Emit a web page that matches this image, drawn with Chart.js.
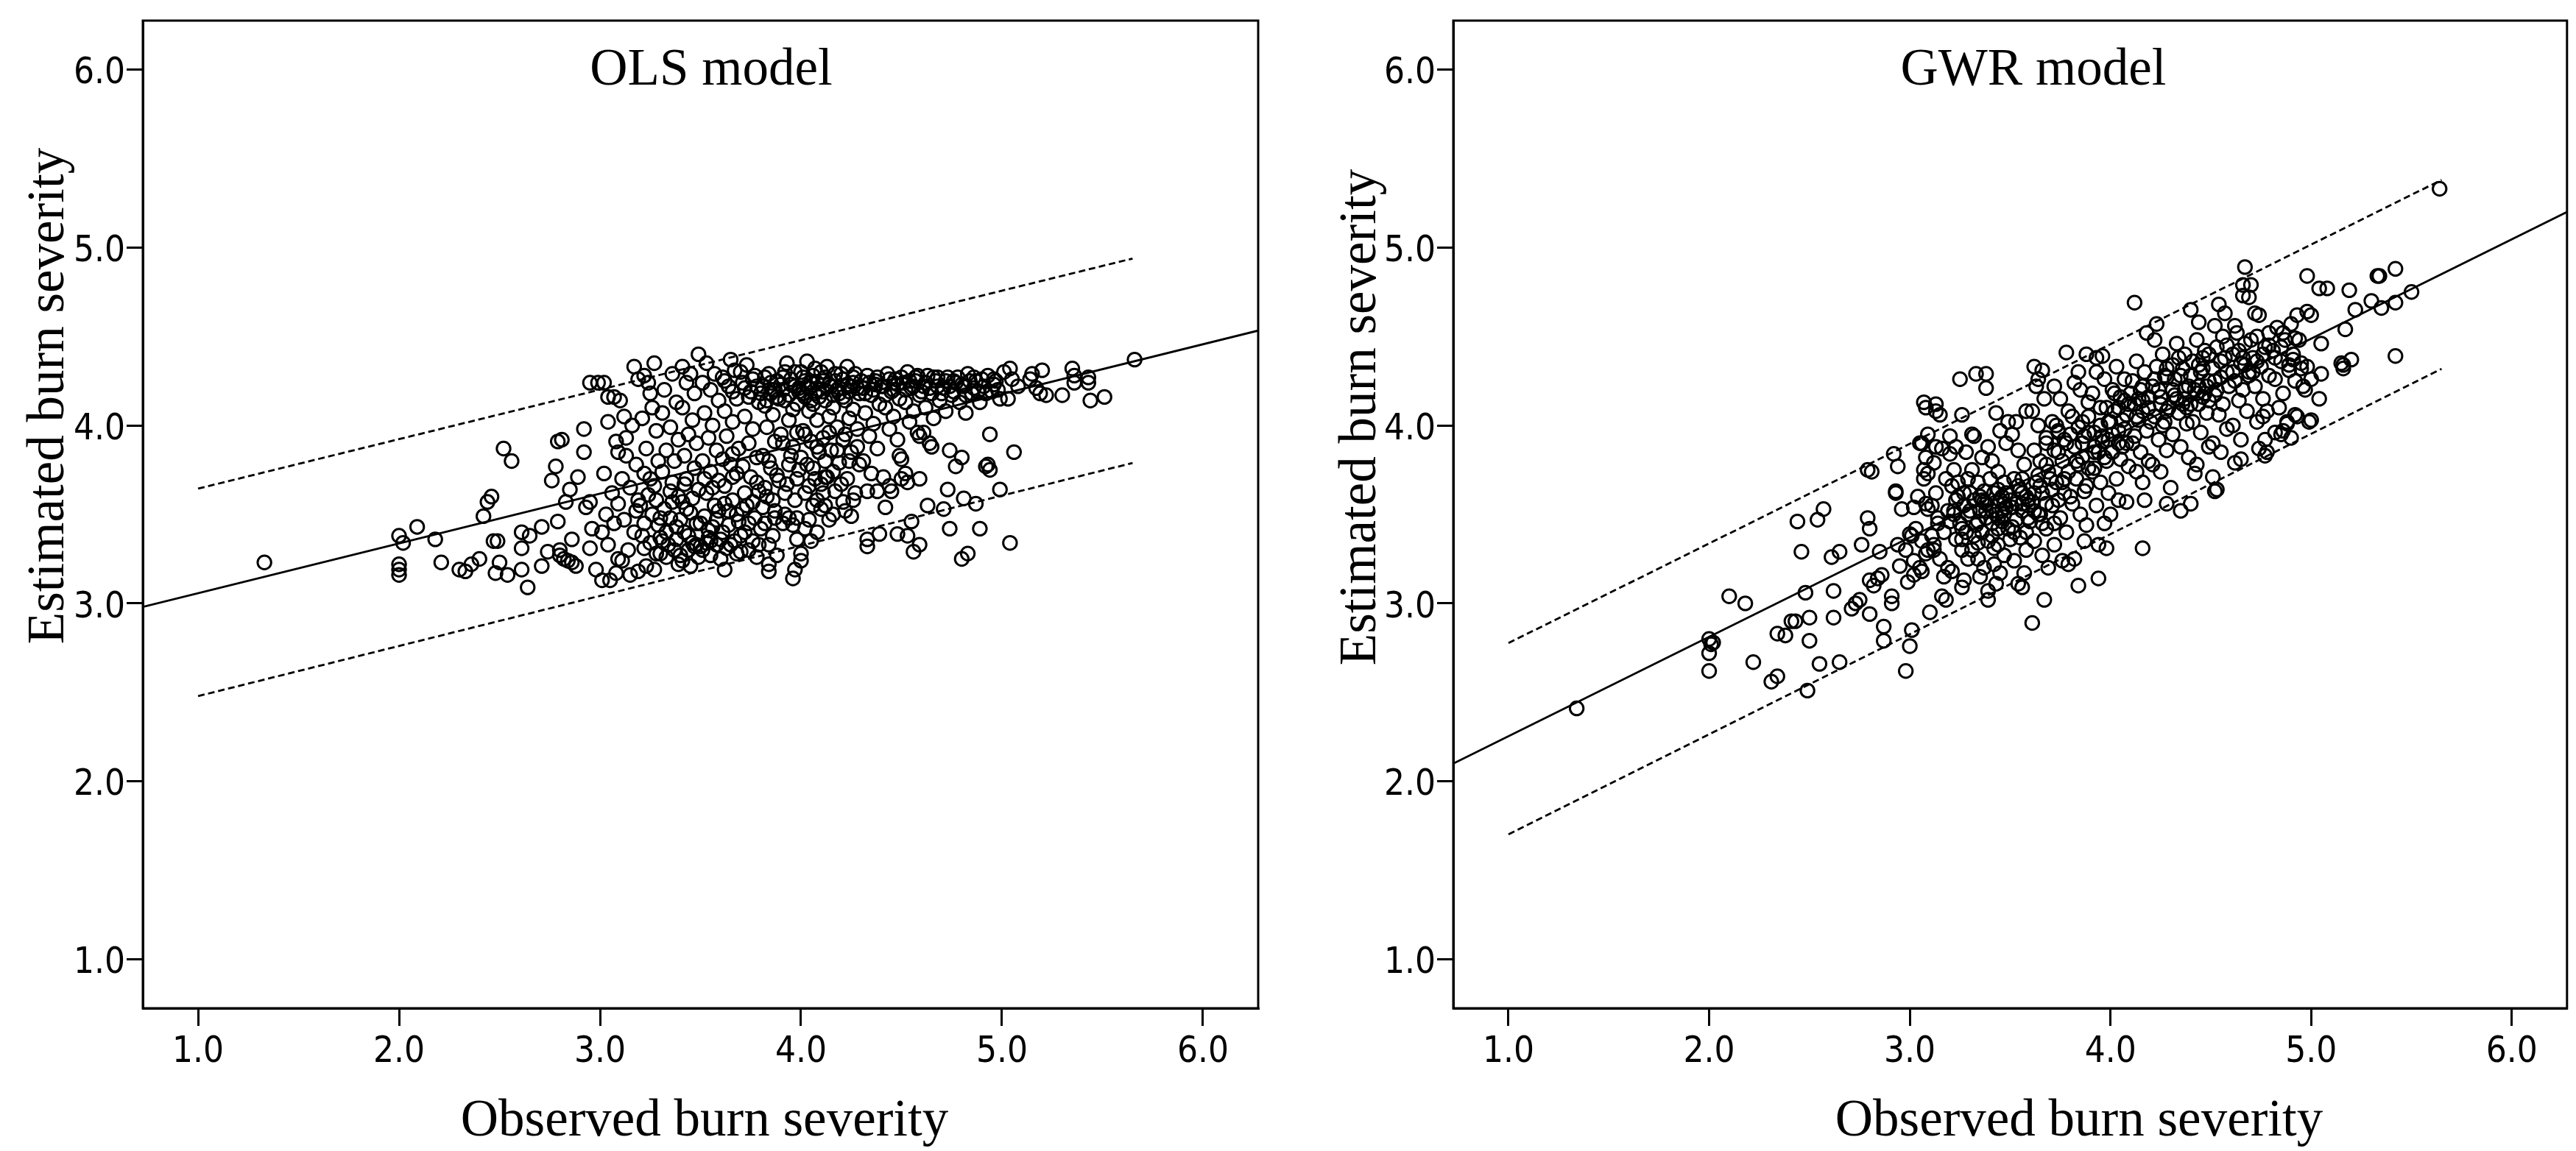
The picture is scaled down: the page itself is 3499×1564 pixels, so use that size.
<!DOCTYPE html>
<html>
<head>
<meta charset="utf-8">
<title>Observed vs estimated burn severity</title>
<script src="https://cdn.jsdelivr.net/npm/chart.js@4.4.1/dist/chart.umd.min.js"></script>
<style>
  html, body { margin: 0; padding: 0; background: #fff; }
  #wrap { position: relative; width: 3499px; height: 1564px; }
  .panel { position: absolute; top: 0; height: 1564px; }
  #left { left: 0; width: 1750px; }
  #right { left: 1750px; width: 1749px; }
</style>
</head>
<body>
<div id="wrap">
  <div class="panel" id="left"><canvas id="olsChart" width="1750" height="1564"></canvas></div>
  <div class="panel" id="right"><canvas id="gwrChart" width="1749" height="1564"></canvas></div>
</div>
<script>
// axis range and ticks (same on both axes, both panels)
const axisMin = 0.725;
const axisMax = 6.275;
const tickValues = [1, 2, 3, 4, 5, 6];

// OLS model: [observed, estimated]
const olsPoints = [
  [1.33,3.23],
  [2.00,3.38],[2.02,3.34],[2.00,3.22],[2.00,3.19],[2.00,3.16],
  [2.09,3.43],[2.18,3.36],[2.21,3.23],
  [2.30,3.19],[2.33,3.18],[2.36,3.22],[2.40,3.25],
  [2.42,3.49],[2.44,3.57],[2.46,3.60],
  [2.47,3.35],[2.49,3.35],[2.50,3.23],[2.48,3.17],
  [2.52,3.87],[2.56,3.80],[2.54,3.16],
  [2.61,3.40],[2.61,3.31],[2.61,3.19],[2.64,3.09],[2.65,3.38],
  [2.71,3.43],[2.71,3.21],[2.74,3.29],[2.76,3.69],[2.78,3.77],[2.79,3.91],[2.81,3.92],
  [2.79,3.46],[2.80,3.30],[2.82,3.25],[2.83,3.57],[2.85,3.64],[2.86,3.36],[2.86,3.23],
  [2.80,3.27],[2.84,3.24],[2.88,3.21],[2.89,3.71],[2.92,3.98],[2.92,3.85],[2.93,3.54],
  [2.95,3.57],[2.96,3.42],[2.95,3.31],[2.95,4.24],[2.99,4.24],[2.98,3.19],[3.01,3.13],
  [3.02,4.24],[3.04,4.16],[3.07,4.16],[3.04,4.02],[3.08,3.91],[3.09,3.85],[3.02,3.73],[3.06,3.62],
  [3.03,3.50],[3.01,3.40],[3.04,3.33],[3.09,3.25],[3.08,3.17],[3.05,3.13],[3.07,3.45],[3.09,3.56],
  [3.10,4.14],[3.12,4.05],[3.16,4.00],[3.13,3.93],[3.18,3.78],[3.11,3.70],[3.15,3.65],[3.19,3.58],
  [3.12,3.47],[3.17,3.40],[3.14,3.30],[3.11,3.24],[3.19,3.18],[3.15,3.16],[3.17,4.33],[3.19,4.26],
  [3.13,3.83],[3.18,3.52],
  [3.27,4.35],[3.22,4.28],[3.24,4.24],[3.26,4.10],[3.21,4.04],[3.28,3.97],[3.23,3.87],[3.29,3.80],
  [3.22,3.73],[3.27,3.66],[3.24,3.61],[3.20,3.55],[3.26,3.50],[3.29,3.44],[3.21,3.38],[3.25,3.34],
  [3.28,3.28],[3.23,3.21],[3.27,3.19],[3.22,3.31],[3.25,4.18],
  [3.36,4.29],[3.32,4.20],[3.38,4.13],[3.31,4.07],[3.35,3.99],[3.39,3.92],[3.33,3.86],[3.37,3.80],
  [3.31,3.74],[3.36,3.68],[3.39,3.60],[3.32,3.53],[3.35,3.48],[3.38,3.43],[3.30,3.37],[3.34,3.33],
  [3.37,3.30],[3.33,3.26],[3.39,3.22],[3.31,3.35],[3.36,3.57],[3.41,4.33],
  [3.49,4.40],[3.45,4.29],[3.43,4.24],[3.47,4.18],[3.41,4.10],[3.46,4.03],[3.44,3.95],[3.48,3.90],
  [3.42,3.83],[3.47,3.76],[3.43,3.70],[3.49,3.64],[3.41,3.57],[3.45,3.51],[3.48,3.45],[3.42,3.40],
  [3.46,3.34],[3.44,3.30],[3.49,3.26],[3.41,3.24],[3.47,3.32],[3.43,3.53],
  [3.53,4.35],[3.57,4.29],[3.51,4.24],[3.55,4.20],[3.59,4.14],[3.52,4.07],[3.56,4.00],[3.54,3.93],
  [3.58,3.86],[3.51,3.80],[3.55,3.74],[3.59,3.69],[3.53,3.62],[3.57,3.55],[3.52,3.49],[3.56,3.43],
  [3.54,3.37],[3.58,3.33],[3.51,3.30],[3.55,3.27],[3.59,3.52],[3.53,3.34],
  [3.65,4.37],[3.67,4.31],[3.61,4.27],[3.64,4.22],[3.68,4.15],[3.62,4.08],[3.66,4.02],[3.63,3.94],
  [3.69,3.87],[3.61,3.81],[3.65,3.78],[3.68,3.73],[3.62,3.66],[3.66,3.58],[3.64,3.52],[3.69,3.46],
  [3.61,3.40],[3.67,3.35],[3.63,3.31],[3.62,3.19],[3.68,3.28],[3.66,3.84],
  [3.73,4.34],[3.77,4.28],[3.71,4.24],[3.75,4.19],[3.79,4.13],[3.72,4.05],[3.76,3.98],[3.74,3.90],
  [3.78,3.82],[3.71,3.77],[3.75,3.71],[3.79,3.63],[3.73,3.55],[3.77,3.48],[3.72,3.40],[3.76,3.35],
  [3.74,3.30],[3.78,3.26],[3.79,3.33],[3.71,3.53],
  [3.84,4.29],[3.88,4.25],[3.81,4.22],[3.85,4.18],[3.89,4.15],[3.82,4.11],[3.86,4.06],[3.83,3.99],
  [3.87,3.91],[3.81,3.83],[3.85,3.76],[3.89,3.69],[3.83,3.60],[3.87,3.52],[3.82,3.45],[3.86,3.38],
  [3.84,3.33],[3.88,3.27],[3.84,3.22],[3.81,3.54],[3.87,4.20],[3.84,3.18],[3.87,3.48],[3.91,3.45],
  [3.93,4.35],[3.97,4.30],[3.91,4.27],[3.95,4.23],[3.99,4.19],[3.92,4.14],[3.96,4.09],[3.94,4.03],
  [3.98,3.96],[3.91,3.90],[3.95,3.83],[3.99,3.75],[3.93,3.67],[3.97,3.58],[3.92,3.50],[3.96,3.44],
  [3.98,3.36],[3.97,3.19],[3.94,3.48],[3.99,4.21],[3.96,3.14],[3.98,3.48],
  [4.03,4.36],[4.07,4.32],[4.01,4.27],[4.05,4.24],[4.09,4.20],[4.02,4.16],[4.06,4.12],[4.04,4.08],
  [4.08,4.03],[4.01,3.97],[4.05,3.91],[4.09,3.85],[4.03,3.78],[4.07,3.70],[4.02,3.62],[4.06,3.55],
  [4.04,3.47],[4.08,3.40],[4.00,3.28],[4.03,4.22],[4.07,4.18],[4.05,3.35],[4.00,3.24],[4.02,3.42],
  [4.08,3.58],[4.10,3.67],[4.11,3.62],[4.12,3.71],
  [4.13,4.33],[4.17,4.29],[4.11,4.25],[4.15,4.22],[4.19,4.18],[4.12,4.14],[4.16,4.10],[4.14,4.05],
  [4.18,3.99],[4.11,3.93],[4.15,3.86],[4.19,3.79],[4.13,3.71],[4.17,3.63],[4.12,3.55],[4.16,3.50],
  [4.14,3.47],[4.18,4.20],
  [4.23,4.33],[4.27,4.29],[4.21,4.26],[4.25,4.22],[4.29,4.18],[4.22,4.14],[4.26,4.09],[4.24,4.04],
  [4.28,3.98],[4.21,3.92],[4.25,3.85],[4.29,3.78],[4.23,3.70],[4.27,3.62],[4.22,3.52],[4.26,4.24],
  [4.25,3.49],[4.21,3.57],
  [4.33,4.28],[4.37,4.25],[4.31,4.21],[4.35,4.17],[4.39,4.12],[4.32,4.07],[4.36,4.01],[4.34,3.94],
  [4.38,3.87],[4.31,3.80],[4.35,3.73],[4.33,3.63],[4.33,3.36],[4.33,3.32],[4.39,3.39],[4.38,3.63],
  [4.37,4.23],
  [4.43,4.29],[4.47,4.26],[4.41,4.22],[4.45,4.19],[4.49,4.15],[4.42,4.10],[4.46,4.05],[4.44,3.98],
  [4.48,3.92],[4.41,3.71],[4.42,3.54],[4.45,3.63],[4.48,3.39],[4.44,3.66],[4.46,4.24],[4.50,3.70],
  [4.50,3.81],[4.49,3.83],
  [4.53,4.30],[4.57,4.27],[4.51,4.24],[4.55,4.21],[4.59,4.17],[4.52,4.13],[4.56,4.08],[4.54,4.02],
  [4.58,3.96],[4.59,3.94],[4.61,3.96],[4.52,3.73],[4.53,3.68],[4.59,3.70],[4.53,3.38],[4.56,3.29],
  [4.59,3.33],[4.55,3.46],[4.57,4.25],
  [4.63,4.28],[4.67,4.25],[4.61,4.22],[4.65,4.18],[4.69,4.14],[4.62,4.10],[4.66,4.04],[4.65,3.88],
  [4.63,3.55],[4.68,4.27],[4.64,3.90],
  [4.73,4.27],[4.77,4.24],[4.71,4.21],[4.75,4.17],[4.79,4.13],[4.72,4.08],[4.74,3.86],[4.80,3.82],
  [4.77,3.77],[4.73,3.64],[4.71,3.53],[4.74,3.42],[4.76,4.25],
  [4.83,4.29],[4.87,4.25],[4.81,4.22],[4.85,4.18],[4.89,4.13],[4.82,4.07],[4.81,3.59],[4.87,3.56],
  [4.83,3.28],[4.80,3.25],[4.86,4.27],[4.89,3.42],
  [4.93,4.28],[4.97,4.25],[4.91,4.22],[4.95,4.19],[4.99,4.15],[4.94,3.95],[4.92,3.77],[4.93,3.78],
  [4.94,3.75],[4.99,3.64],[4.96,4.26],
  [5.04,4.32],[5.05,4.26],[5.08,4.22],[5.03,4.15],[5.06,3.85],[5.04,3.34],[5.01,4.30],
  [5.14,4.26],[5.15,4.29],[5.20,4.31],[5.17,4.21],[5.19,4.18],[5.22,4.17],[5.30,4.17],[5.35,4.32],
  [5.36,4.28],[5.36,4.24],[5.43,4.27],[5.43,4.24],[5.44,4.14],[5.51,4.16],[5.66,4.37],
  // dense upper band
  [3.62,4.25],[3.66,4.19],[3.70,4.30],[3.72,4.21],[3.74,4.16],[3.76,4.26],[3.78,4.22],[3.80,4.18],
  [3.82,4.27],[3.83,4.14],[3.85,4.24],[3.86,4.20],[3.88,4.16],[3.90,4.23],[3.91,4.20],[3.92,4.30],
  [3.94,4.17],[3.95,4.26],[3.97,4.22],[3.98,4.12],[4.00,4.30],[4.01,4.18],[4.02,4.25],[4.04,4.21],
  [4.05,4.14],[4.06,4.28],[4.08,4.24],[4.09,4.16],[4.10,4.30],[4.11,4.19],[4.12,4.27],[4.14,4.23],
  [4.16,4.17],[4.17,4.25],[4.19,4.21],[4.20,4.29],[4.21,4.16],[4.23,4.23],[4.24,4.19],[4.26,4.27],
  [4.28,4.21],[4.30,4.25],[4.32,4.18],[4.34,4.24],[4.36,4.20],[4.38,4.27],[4.40,4.22],[4.42,4.17],
  [4.44,4.26],[4.46,4.20],[4.48,4.23],[4.50,4.27],[4.52,4.20],[4.54,4.25],[4.56,4.22],[4.58,4.28],
  [4.60,4.19],[4.62,4.24],[4.64,4.21],[4.66,4.27],[4.68,4.22],[4.70,4.18],[4.72,4.25],[4.74,4.22],
  [4.76,4.19],[4.78,4.27],[4.80,4.23],[4.82,4.17],[4.84,4.25],[4.86,4.21],[4.88,4.19],[4.90,4.26],
  [4.92,4.18],[4.96,4.23],[4.98,4.20],
  // dense middle
  [3.22,3.45],[3.25,3.70],[3.28,3.58],[3.30,3.48],[3.33,3.40],[3.35,3.63],[3.38,3.36],[3.40,3.47],
  [3.42,3.67],[3.44,3.38],[3.46,3.59],[3.48,3.33],[3.50,3.45],[3.52,3.70],[3.54,3.41],[3.56,3.65],
  [3.58,3.47],[3.60,3.36],[3.62,3.56],[3.64,3.44],[3.66,3.71],[3.68,3.50],[3.70,3.38],[3.72,3.62],
  [3.74,3.45],[3.76,3.57],[3.78,3.68],[3.80,3.42],[3.82,3.65],[3.84,3.80],[3.86,3.58],[3.88,3.72],
  [3.90,3.95],[3.92,3.62],[3.94,3.78],[3.96,3.88],[3.98,3.70],[4.00,3.82],[4.02,3.95],[4.04,3.66],
  [4.06,3.76],[4.08,3.88],[4.10,3.53],[4.12,3.80],[4.14,3.96],[4.16,3.74],[4.18,3.86],[4.20,3.67],
  [4.22,3.95],[4.24,3.80],[4.26,3.58],[4.28,3.88],[3.30,3.28],[3.40,3.27],[3.50,3.32],[3.60,3.25],
  [3.70,3.29],[3.45,3.21],[3.55,3.35],[3.65,3.33]
];
const olsFit = [[0.725,2.98],[6.275,4.533]];
const olsUpper = [[1.0,3.645],[5.65,4.938]];
const olsLower = [[1.0,2.479],[5.65,3.789]];

// GWR model: [observed, estimated]
const gwrPoints = [
  [1.34,2.41],
  [2.00,2.80],[2.00,2.72],[2.00,2.62],[2.01,2.77],[2.02,2.78],
  [2.10,3.04],[2.18,3.00],[2.22,2.67],
  [2.31,2.56],[2.34,2.59],[2.34,2.83],[2.38,2.82],[2.41,2.90],[2.43,2.90],
  [2.44,3.46],[2.54,3.47],[2.57,3.53],[2.46,3.29],[2.48,3.06],[2.50,2.92],[2.50,2.79],[2.49,2.51],[2.55,2.66],
  [2.61,3.26],[2.65,3.29],[2.62,3.07],[2.62,2.92],[2.65,2.67],
  [2.71,2.97],[2.73,3.00],[2.75,3.02],[2.76,3.33],[2.79,3.48],[2.80,3.42],[2.79,3.75],[2.81,3.74],
  [2.80,3.13],[2.82,3.10],[2.80,2.94],[2.84,3.14],[2.86,3.16],[2.85,3.29],[2.87,2.79],[2.87,2.87],
  [2.91,3.00],[2.91,3.04],[2.92,3.84],[2.93,3.63],[2.93,3.62],[2.95,3.21],[2.94,3.33],[2.96,3.53],
  [2.94,3.77],[2.98,2.62],[3.00,2.76],[3.01,2.85],[2.98,3.30],[3.00,3.39],[3.02,3.54],[2.99,3.12],[3.02,3.16],
  [3.03,3.42],[3.06,3.35],[3.08,3.28],[3.02,3.24],[3.05,3.20],[3.09,3.53],[3.04,3.60],[3.07,3.70],
  [3.08,3.56],[3.01,3.38],[3.06,3.18],[3.09,3.30],[3.07,4.13],[3.06,3.90],[3.08,3.82],[3.09,3.73],
  [3.05,3.90],[3.08,4.10],[3.09,3.95],[3.10,2.95],[3.07,3.75],
  [3.11,3.55],[3.14,3.48],[3.17,3.40],[3.12,3.33],[3.15,3.25],[3.19,3.20],[3.13,3.62],[3.18,3.70],
  [3.16,3.87],[3.11,3.38],[3.14,3.45],[3.16,3.04],[3.18,3.02],[3.12,3.30],[3.19,3.52],[3.13,4.12],
  [3.12,3.79],[3.13,4.08],[3.15,4.06],[3.20,3.94],[3.13,3.88],[3.20,3.84],[3.17,3.15],
  [3.21,3.66],[3.24,3.60],[3.27,3.55],[3.22,3.50],[3.25,3.45],[3.28,3.40],[3.23,3.36],[3.26,3.30],
  [3.29,3.25],[3.21,3.18],[3.27,3.13],[3.26,3.09],[3.22,3.75],[3.24,3.68],[3.25,4.26],[3.26,4.06],
  [3.28,3.85],[3.23,3.88],[3.29,3.70],[3.22,3.52],[3.27,3.62],
  [3.31,3.75],[3.34,3.68],[3.37,3.63],[3.32,3.58],[3.35,3.52],[3.38,3.48],[3.33,3.44],[3.36,3.40],
  [3.39,3.35],[3.31,3.30],[3.34,3.25],[3.37,3.20],[3.35,3.15],[3.33,4.29],[3.38,4.29],[3.38,4.21],
  [3.31,3.95],[3.36,3.82],[3.39,3.88],[3.32,3.94],[3.37,3.57],[3.34,3.46],[3.30,3.62],[3.39,3.02],
  [3.39,3.07],
  [3.41,3.80],[3.44,3.74],[3.47,3.68],[3.42,3.62],[3.45,3.58],[3.48,3.54],[3.43,3.50],[3.46,3.46],
  [3.49,3.42],[3.41,3.38],[3.44,3.33],[3.47,3.27],[3.42,3.22],[3.45,3.17],[3.43,3.11],[3.48,3.90],
  [3.45,3.97],[3.43,4.07],[3.49,4.02],[3.46,3.60],[3.41,3.52],[3.47,3.56],[3.44,3.48],
  [3.51,3.95],[3.54,3.86],[3.57,3.78],[3.52,3.70],[3.55,3.64],[3.58,3.60],[3.53,3.56],[3.56,3.52],
  [3.59,3.48],[3.51,3.43],[3.55,3.37],[3.58,3.30],[3.52,3.24],[3.57,3.17],[3.54,3.11],[3.56,3.09],
  [3.53,4.02],[3.58,4.08],[3.59,3.58],[3.51,3.54],[3.56,3.62],
  [3.62,4.33],[3.66,4.31],[3.63,4.22],[3.67,4.15],[3.61,4.08],[3.64,4.00],[3.68,3.93],[3.62,3.86],
  [3.65,3.80],[3.69,3.74],[3.63,3.68],[3.66,3.62],[3.61,3.57],[3.64,3.50],[3.68,3.42],[3.62,3.35],
  [3.66,3.27],[3.69,3.20],[3.61,2.89],[3.67,3.02],[3.65,3.66],[3.68,3.90],[3.64,4.26],
  [3.78,4.41],[3.72,4.22],[3.75,4.15],[3.79,4.08],[3.71,4.02],[3.74,3.97],[3.77,3.92],[3.72,3.86],
  [3.76,3.80],[3.79,3.74],[3.73,3.68],[3.77,3.62],[3.71,3.55],[3.75,3.48],[3.78,3.40],[3.72,3.33],
  [3.76,3.24],[3.74,3.96],[3.78,3.90],[3.73,4.00],[3.79,3.22],
  [3.88,4.40],[3.82,4.24],[3.85,4.20],[3.89,4.13],[3.81,4.05],[3.84,3.99],[3.87,3.94],[3.82,3.88],
  [3.86,3.82],[3.89,3.76],[3.83,3.70],[3.87,3.63],[3.81,3.56],[3.85,3.50],[3.88,3.44],[3.82,3.25],
  [3.84,3.10],[3.86,4.02],[3.89,3.96],[3.84,4.30],[3.87,3.35],
  [3.96,4.39],[3.93,4.30],[3.97,4.26],[3.91,4.18],[3.95,4.10],[3.99,4.02],[3.92,3.96],[3.96,3.91],
  [3.94,3.85],[3.98,3.80],[3.91,3.74],[3.95,3.68],[3.99,3.62],[3.93,3.55],[3.97,3.45],[3.94,3.33],
  [3.98,3.31],[3.94,3.14],[3.92,3.85],[3.97,3.82],[3.99,3.92],[3.93,4.38],
  [4.03,4.33],[4.07,4.26],[4.01,4.20],[4.05,4.16],[4.09,4.12],[4.02,4.08],[4.06,4.03],[4.04,3.97],
  [4.08,3.90],[4.01,3.85],[4.05,3.81],[4.09,3.77],[4.03,3.70],[4.00,3.50],[4.04,3.58],[4.08,3.57],
  [4.07,4.14],[4.02,4.18],[4.06,3.88],
  [4.12,4.69],[4.13,4.36],[4.17,4.30],[4.11,4.25],[4.15,4.20],[4.19,4.16],[4.12,4.12],[4.16,4.08],
  [4.14,4.03],[4.18,3.97],[4.11,3.90],[4.15,3.85],[4.19,3.80],[4.13,3.74],[4.16,3.68],[4.16,3.31],
  [4.18,4.52],[4.14,4.15],[4.17,3.58],
  [4.22,4.48],[4.26,4.40],[4.23,4.33],[4.27,4.28],[4.21,4.22],[4.25,4.16],[4.29,4.10],[4.22,4.05],
  [4.26,4.00],[4.24,3.92],[4.28,3.86],[4.21,3.78],[4.25,3.74],[4.23,4.57],[4.28,4.27],[4.27,4.02],
  [4.28,3.56],
  [4.33,4.46],[4.37,4.40],[4.31,4.34],[4.35,4.28],[4.39,4.22],[4.32,4.17],[4.36,4.12],[4.34,4.07],
  [4.38,4.01],[4.31,3.95],[4.35,3.88],[4.39,3.82],[4.30,3.65],[4.35,3.52],[4.33,4.15],[4.37,4.20],
  [4.38,4.10],
  [4.40,4.65],[4.44,4.58],[4.43,4.48],[4.47,4.42],[4.41,4.36],[4.45,4.30],[4.49,4.25],[4.42,4.20],
  [4.46,4.16],[4.44,4.12],[4.48,4.07],[4.41,4.02],[4.45,3.96],[4.49,3.88],[4.43,3.78],[4.42,3.73],
  [4.40,3.56],[4.47,4.18],[4.49,4.14],[4.44,4.22],[4.46,4.38],
  [4.52,4.56],[4.56,4.50],[4.53,4.44],[4.57,4.38],[4.51,4.32],[4.55,4.27],[4.59,4.22],[4.52,4.17],
  [4.56,4.12],[4.54,4.06],[4.58,3.98],[4.51,3.90],[4.55,3.85],[4.54,4.68],[4.57,4.63],[4.58,4.30],
  [4.53,4.20],[4.53,3.64],[4.51,3.71],[4.52,3.63],
  [4.63,4.52],[4.67,4.46],[4.61,4.40],[4.65,4.35],[4.69,4.30],[4.62,4.25],[4.66,4.20],[4.64,4.14],
  [4.68,4.08],[4.61,4.00],[4.65,3.92],[4.65,3.81],[4.67,4.89],[4.69,4.72],[4.62,4.56],[4.66,4.38],
  [4.69,4.28],[4.62,3.79],[4.66,4.79],[4.66,4.73],
  [4.70,4.79],[4.74,4.62],[4.73,4.50],[4.77,4.44],[4.71,4.38],[4.75,4.33],[4.79,4.28],[4.72,4.22],
  [4.76,4.15],[4.78,4.08],[4.73,4.02],[4.74,3.87],[4.78,3.85],[4.76,4.05],[4.79,4.45],[4.71,4.30],
  [4.77,3.92],[4.72,4.63],[4.77,3.83],
  [4.83,4.55],[4.87,4.48],[4.81,4.42],[4.85,4.36],[4.89,4.31],[4.82,4.26],[4.86,4.18],[4.84,4.10],
  [4.88,4.02],[4.85,3.95],[4.86,4.52],[4.89,4.34],[4.82,3.96],[4.86,3.97],[4.88,4.01],
  [4.90,4.57],[4.93,4.62],[4.98,4.64],[4.98,4.84],[4.94,4.48],[4.91,4.40],[4.95,4.35],[4.98,4.33],
  [4.96,4.22],[4.92,4.25],[4.97,4.20],[4.93,4.05],[4.90,3.93],[4.99,4.02],[4.95,4.32],[4.91,4.37],
  [4.92,4.49],[4.92,4.06],
  [5.00,4.62],[5.00,4.26],[5.00,4.03],[5.04,4.77],[5.08,4.77],[5.05,4.46],[5.05,4.29],[5.04,4.15],
  [5.16,4.34],[5.15,4.35],[5.20,4.37],[5.16,4.32],[5.17,4.54],[5.19,4.76],[5.22,4.65],[5.30,4.70],
  [5.33,4.84],[5.34,4.84],[5.42,4.88],[5.35,4.66],[5.42,4.69],[5.50,4.75],[5.42,4.39],[5.64,5.33],
  // dense diagonal core
  [3.20,3.46],[3.23,3.58],[3.26,3.42],[3.29,3.50],[3.32,3.38],[3.35,3.60],[3.38,3.52],[3.41,3.45],
  [3.44,3.64],[3.47,3.50],[3.50,3.58],[3.53,3.47],[3.56,3.70],[3.59,3.55],[3.62,3.62],[3.65,3.50],
  [3.68,3.78],[3.71,3.64],[3.74,3.85],[3.77,3.70],[3.80,3.95],[3.83,3.80],[3.86,3.90],[3.89,4.05],
  [3.92,3.88],[3.95,4.00],[3.98,4.10],[4.01,3.95],[4.04,4.10],[4.07,3.98],[4.10,4.18],[4.13,4.05],
  [4.16,4.22],[4.19,4.10],[4.22,4.26],[4.25,4.12],[4.28,4.32],[4.31,4.20],[4.34,4.38],[4.37,4.15],
  [4.40,4.28],[4.43,4.18],[4.46,4.32],[4.49,4.40],[4.52,4.25],[4.55,4.36],[4.58,4.45],[4.61,4.30],
  [4.64,4.42],[4.67,4.34],[4.70,4.48],[4.73,4.36],[4.76,4.40],[4.79,4.52],[4.82,4.38],[4.85,4.44],
  [3.36,3.58],[3.40,3.70],[3.44,3.42],[3.48,3.62],[3.52,3.40],[3.56,3.56],[3.60,3.46],[3.64,3.72],
  [3.68,3.56],[3.72,3.45],[3.76,3.68],[3.80,3.60],[3.84,3.78],[3.88,3.66],[3.92,3.76],[3.96,3.94],
  [4.00,4.02],[4.04,3.90],[4.08,4.06],[4.12,3.94],[4.16,4.14],[4.20,4.02],[4.24,4.20],[4.28,4.08],
  [4.32,4.26],[4.36,4.32],[4.40,4.12],[4.44,4.34],[4.48,4.22],[3.26,3.36],[3.30,3.52],[3.34,3.34],
  [3.38,3.56],[3.42,3.31],[3.46,3.52],[3.50,3.36],[3.54,3.66],[3.58,3.40],[3.62,3.52],[3.66,3.45],
  [3.70,3.70],[3.74,3.58]
];
const gwrFit = [[0.725,2.10],[6.275,5.20]];
const gwrUpper = [[1.0,2.777],[5.65,5.38]];
const gwrLower = [[1.0,1.702],[5.65,4.318]];

const tickFont = {
  family: "'Liberation Sans Narrow', 'DejaVu Sans Condensed', 'Liberation Sans', sans-serif",
  size: 49,
  lineHeight: 1
};
const titleFont = '71px "Liberation Serif", "Times New Roman", serif';

const toXY = arr => arr.map(([x, y]) => ({ x: x, y: y }));

// frame + panel/axis titles
const panelText = {
  id: 'panelText',
  afterDraw(chart, args, o) {
    const ctx = chart.ctx;
    const a = chart.chartArea;
    ctx.save();
    ctx.strokeStyle = '#000';
    ctx.lineWidth = 3;
    ctx.strokeRect(a.left, a.top, a.right - a.left, a.bottom - a.top);
    ctx.fillStyle = '#000';
    ctx.font = titleFont;
    ctx.textAlign = 'center';
    ctx.textBaseline = 'alphabetic';
    ctx.fillText(o.title, o.titleX, o.titleY);
    ctx.fillText(o.xTitle, o.xTitleX, o.xTitleY);
    ctx.translate(o.yTitleX, o.yTitleY);
    ctx.rotate(-Math.PI / 2);
    ctx.fillText(o.yTitle, 0, 0);
    ctx.restore();
  }
};

function lineSet(data, dash) {
  return {
    type: 'scatter',
    data: toXY(data),
    showLine: true,
    borderColor: '#000',
    borderWidth: 2.8,
    borderDash: dash,
    pointRadius: 0,
    fill: false
  };
}

function makeChart(id, points, fit, upper, lower, yAxisWidth, padRight, text) {
  return new Chart(document.getElementById(id), {
    type: 'scatter',
    data: {
      datasets: [
        lineSet(fit, []),
        lineSet(upper, [9, 5]),
        lineSet(lower, [9, 5]),
        {
          data: toXY(points),
          pointStyle: 'circle',
          pointRadius: 9.2,
          pointBorderWidth: 3,
          pointBackgroundColor: 'rgba(0,0,0,0)',
          pointBorderColor: '#000'
        }
      ]
    },
    options: {
      responsive: false,
      animation: false,
      devicePixelRatio: 1,
      layout: { padding: { top: 28, right: padRight, left: 0, bottom: 0 } },
      plugins: {
        legend: { display: false },
        tooltip: { enabled: false },
        panelText: text
      },
      scales: {
        x: {
          type: 'linear',
          min: axisMin,
          max: axisMax,
          afterBuildTicks: s => { s.ticks = tickValues.map(v => ({ value: v })); },
          afterFit: s => { s.height = 194; },
          ticks: { callback: v => v.toFixed(1), font: tickFont, color: '#000', padding: 12, autoSkip: false, maxRotation: 0 },
          grid: { drawOnChartArea: false, drawTicks: true, tickLength: 24, color: '#000', lineWidth: 3 },
          border: { display: true, color: '#000', width: 3 }
        },
        y: {
          type: 'linear',
          min: axisMin,
          max: axisMax,
          afterBuildTicks: s => { s.ticks = tickValues.map(v => ({ value: v })); },
          afterFit: s => { s.width = yAxisWidth; },
          ticks: { callback: v => v.toFixed(1), font: tickFont, color: '#000', padding: 2, labelOffset: 6, autoSkip: false },
          grid: { drawOnChartArea: false, drawTicks: true, tickLength: 22, color: '#000', lineWidth: 3 },
          border: { display: true, color: '#000', width: 3 }
        }
      }
    },
    plugins: [panelText]
  });
}

makeChart('olsChart', olsPoints, olsFit, olsUpper, olsLower, 194, 41, {
  title: 'OLS model', titleX: 966, titleY: 115,
  xTitle: 'Observed burn severity', xTitleX: 957, xTitleY: 1543,
  yTitle: 'Estimated burn severity', yTitleX: 86, yTitleY: 538
});
makeChart('gwrChart', gwrPoints, gwrFit, gwrUpper, gwrLower, 224, 8, {
  title: 'GWR model', titleX: 1012, titleY: 115,
  xTitle: 'Observed burn severity', xTitleX: 1074, xTitleY: 1543,
  yTitle: 'Estimated burn severity', yTitleX: 118, yTitleY: 567
});
</script>
</body>
</html>
